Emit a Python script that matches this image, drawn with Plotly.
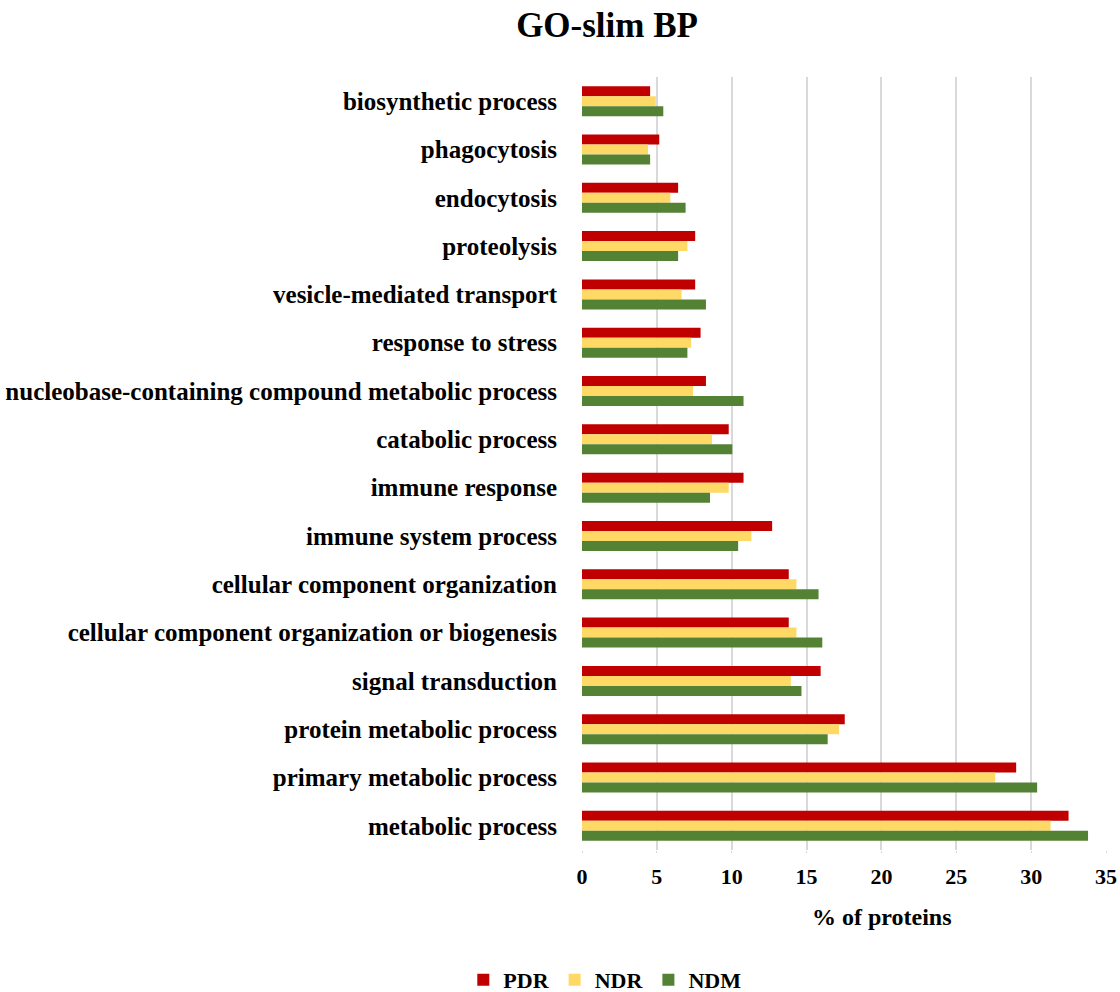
import plotly.graph_objects as go

categories = [
    "biosynthetic process",
    "phagocytosis",
    "endocytosis",
    "proteolysis",
    "vesicle-mediated transport",
    "response to stress",
    "nucleobase-containing compound metabolic process",
    "catabolic process",
    "immune response",
    "immune system process",
    "cellular component organization",
    "cellular component organization or biogenesis",
    "signal transduction",
    "protein metabolic process",
    "primary metabolic process",
    "metabolic process",
]
pdr = [4.55, 5.16, 6.42, 7.56, 7.56, 7.92, 8.28, 9.8, 10.79, 12.7, 13.81, 13.81, 15.94, 17.55, 29.0, 32.5]
ndr = [4.93, 4.41, 5.9, 7.04, 6.65, 7.29, 7.42, 8.68, 9.8, 11.31, 14.32, 14.32, 13.95, 17.17, 27.6, 31.3]
ndm = [5.43, 4.55, 6.92, 6.42, 8.28, 7.04, 10.79, 10.04, 8.55, 10.43, 15.8, 16.05, 14.66, 16.41, 30.4, 33.8]
x_ticks = [0, 5, 10, 15, 20, 25, 30, 35]

font_family = "Liberation Serif"

fig = go.Figure()
for name, vals, color in [("PDR", pdr, "#C00000"), ("NDR", ndr, "#FFD966"), ("NDM", ndm, "#548235")]:
    fig.add_trace(go.Bar(
        y=categories, x=vals, name=f"<b>{name}</b>", orientation="h",
        marker=dict(color=color, line=dict(width=0)),
    ))

fig.update_layout(
    width=1120, height=992,
    barmode="group", bargap=0.38, bargroupgap=0,
    plot_bgcolor="white", paper_bgcolor="white",
    margin=dict(l=582, r=14, t=77, b=142, autoexpand=False),
    title=dict(text="<b>GO-slim BP</b>", x=0.542, xref="container", xanchor="center",
               y=1 - 25 / 992, yref="container", yanchor="middle",
               font=dict(family=font_family, size=35, color="black")),
    font=dict(family=font_family, color="black"),
    legend=dict(orientation="h", xref="container", yref="container",
                x=0.54, xanchor="center", y=1 - 980 / 992, yanchor="middle",
                font=dict(family=font_family, size=22, color="black"),
                itemwidth=30, traceorder="normal"),
    showlegend=True,
    annotations=[dict(
        text="<b>% of proteins</b>", xref="paper", yref="paper",
        x=(882 - 582) / 524, y=(850 - 917) / 773, xanchor="center", yanchor="middle",
        showarrow=False, font=dict(family=font_family, size=24, color="black"),
    )],
)
fig.update_xaxes(
    range=[0, 35], tickvals=x_ticks, ticktext=[f"<b>{t}</b>" for t in x_ticks],
    showgrid=True, gridcolor="#D9D9D9", gridwidth=1.5,
    zeroline=False, showline=False, automargin=False,
    ticks="outside", ticklen=2, tickcolor="#D9D9D9",
    ticklabelstandoff=5,
    tickfont=dict(family=font_family, size=22, color="black"),
)
fig.update_yaxes(
    autorange="reversed", categoryorder="array", categoryarray=categories,
    tickvals=categories, ticktext=[f"<b>{c}</b>" for c in categories],
    showgrid=False, showline=False, zeroline=False, automargin=False,
    ticks="", ticklabelstandoff=24,
    tickfont=dict(family=font_family, size=25, color="black"),
)

fig.write_html("out.html")
